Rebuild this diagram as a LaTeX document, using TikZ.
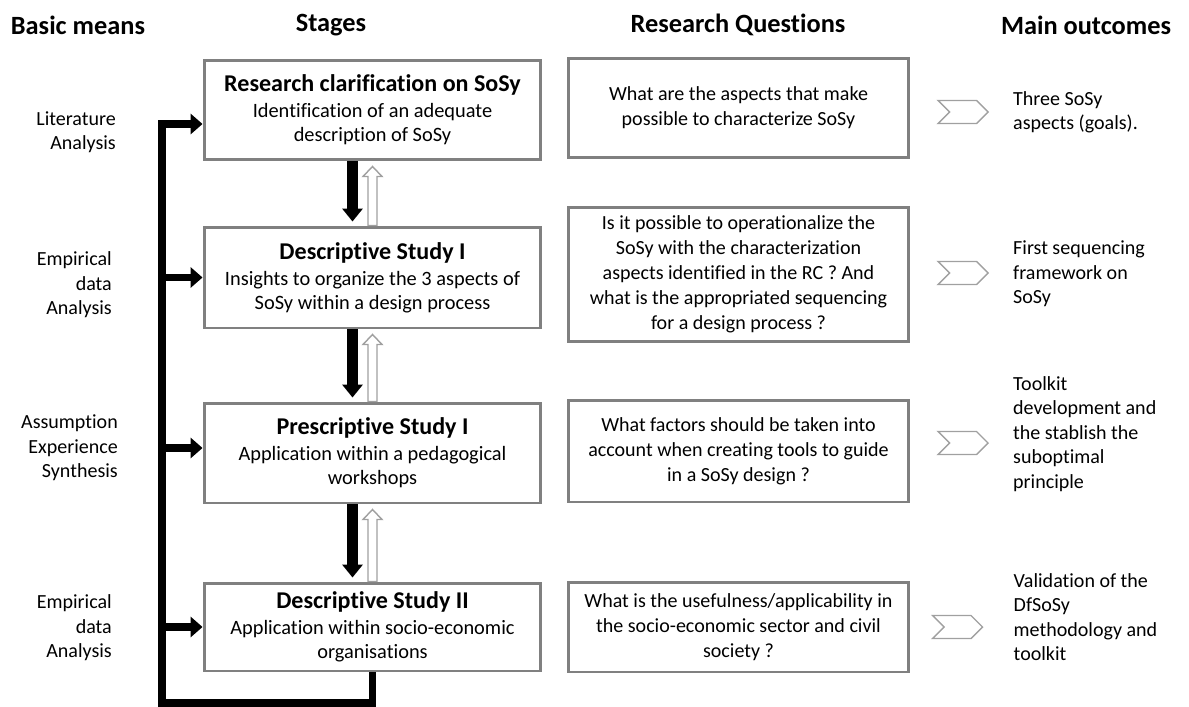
\documentclass[tikz,border=0pt]{standalone}
\usepackage{fontspec}
\setmainfont{Carlito}[Ligatures=NoCommon]
\usetikzlibrary{arrows.meta,shapes.symbols}

\definecolor{boxgray}{RGB}{128,128,128}
\definecolor{chevgray}{RGB}{160,160,160}
\newcommand{\stagehead}[1]{{\fontsize{13.7}{16}\selectfont\bfseries #1}}

\tikzset{
  header/.style   = {font=\fontsize{15}{18}\selectfont\bfseries},
  means/.style    = {anchor=east, align=right, font=\fontsize{11.4}{13.9}\selectfont},
  stage/.style    = {draw=boxgray, line width=1.7pt, minimum width=6.74cm,
                     align=center, font=\fontsize{11.6}{13.7}\selectfont},
  question/.style = {draw=boxgray, line width=1.7pt, minimum width=6.82cm,
                     align=center, font=\fontsize{11.4}{14.2}\selectfont},
  chevron/.style  = {signal, signal from=west, signal to=east, draw=chevgray,
                     line width=0.8pt, minimum width=1cm, minimum height=0.46cm, inner sep=0pt},
  outcome/.style  = {anchor=west, align=left, font=\fontsize{11.4}{13.9}\selectfont},
  downarrow/.style = {line width=5.7pt, -{Triangle[width=11.4pt, length=7.4pt]}},
  uparrow/.style   = {draw=chevgray, line width=0.8pt, fill=white},
  backline/.style  = {line width=4.5pt, -{Triangle[width=11.4pt, length=6.8pt]}},
  branch/.style    = {line width=4.5pt, -{Triangle[width=11.4pt, length=6.8pt]}}
}

\begin{document}
\begin{tikzpicture}[x=0.02cm, y=-0.02cm]
  \useasboundingbox (0,0) rectangle (1189,706);

  % column headers
  \node[header] (hdmeans) at (78,25)                        {Basic means};
  \node[header] (hdstage) at ([shift={(253,0)}]   hdmeans) {Stages};
  \node[header] (hdquest) at ([shift={(407,0)}]   hdstage) {Research Questions};
  \node[header] (hdout)   at ([shift={(348,0)}]   hdquest) {Main outcomes};

  % stages
  \node[stage, minimum height=2cm]    (rc)    at (372.5,110)               {\stagehead{Research clarification on SoSy}\\[1pt] Identification of an adequate\\ description of SoSy};
  \node[stage, minimum height=2.02cm] (dsone) at ([shift={(0,167.5)}] rc)    {\stagehead{Descriptive Study I}\\[1pt] Insights to organize the 3 aspects of\\ SoSy within a design process};
  \node[stage, minimum height=2cm]    (psone) at ([shift={(0,175.5)}] dsone) {\stagehead{Prescriptive Study I}\\[1pt] Application within a pedagogical\\ workshops};
  \node[stage, minimum height=1.76cm] (dstwo) at ([shift={(0,174)}]   psone) {\stagehead{Descriptive Study II}\\[1pt] Application within socio-economic\\ organisations};

  % research questions
  \node[question, minimum height=2cm]    (rqone)   at ([shift={(366,-2)}] rc)    {What are the aspects that make\\ possible to characterize SoSy};
  \node[question, minimum height=2.7cm]  (rqtwo)   at ([shift={(366,-3)}] dsone) {Is it possible to operationalize the\\ SoSy with the characterization\\ aspects identified in the RC ? And\\ what is the appropriated sequencing\\ for a design process ?};
  \node[question, minimum height=2.04cm] (rqthree) at ([shift={(366,-2)}] psone) {What factors should be taken into\\ account when creating tools to guide\\ in a SoSy design ?};
  \node[question, minimum height=1.8cm]  (rqfour)  at ([shift={(366,0)}]  dstwo) {What is the usefulness/applicability in\\ the socio-economic sector and civil\\ society ?};

  % chevrons and outcomes
  \node[chevron] (chevone)   at ([shift={(224.5,4)}]    rqone)   {};
  \node[chevron] (chevtwo)   at ([shift={(224.5,-1.5)}] rqtwo)   {};
  \node[chevron] (chevthree) at ([shift={(224.5,-8)}]   rqthree) {};
  \node[chevron] (chevfour)  at ([shift={(219,0)}]      rqfour)  {};

  \node[outcome] (outone)   at ([shift={(44,0)}]   chevone)   {Three SoSy\\ aspects (goals).};
  \node[outcome] (outtwo)   at ([shift={(44,1)}]   chevtwo)   {First sequencing\\ framework on\\ SoSy};
  \node[outcome] (outthree) at ([shift={(44,-9)}]  chevthree) {Toolkit\\ development and\\ the stablish the\\ suboptimal\\ principle};
  \node[outcome] (outfour)  at ([shift={(50,-10)}] chevfour)  {Validation of the\\ DfSoSy\\ methodology and\\ toolkit};

  % basic means
  \node[means] (mnone)   at (122,132)                          {Literature\\ Analysis};
  \node[means] (mntwo)   at ([shift={(-4,153)}]  mnone.east)   {Empirical\\ data\\ Analysis};
  \node[means] (mnthree) at ([shift={(6,163)}]   mntwo.east)   {Assumption\\ Experience\\ Synthesis};
  \node[means] (mnfour)  at ([shift={(-6,180)}]  mnthree.east) {Empirical\\ data\\ Analysis};

  % stage to stage arrows
  \draw[downarrow] ([shift={(-20,0)}]rc.south)    -- ([shift={(-20,-4)}]dsone.north);
  \draw[downarrow] ([shift={(-20,0)}]dsone.south) -- ([shift={(-20,-4)}]psone.north);
  \draw[downarrow] ([shift={(-20,0)}]psone.south) -- ([shift={(-20,-4)}]dstwo.north);

  \draw[uparrow] ([shift={(-4.5,0)}]dsone.north) |- ([shift={(-9.5,15)}]rc.south) -- ([shift={(0,5)}]rc.south)
    -- ([shift={(9.5,15)}]rc.south) -| ([shift={(4.5,0)}]dsone.north) -- cycle;
  \draw[uparrow] ([shift={(-4.5,0)}]psone.north) |- ([shift={(-9.5,15)}]dsone.south) -- ([shift={(0,5)}]dsone.south)
    -- ([shift={(9.5,15)}]dsone.south) -| ([shift={(4.5,0)}]psone.north) -- cycle;
  \draw[uparrow] ([shift={(-4.5,0)}]dstwo.north) |- ([shift={(-9.5,15)}]psone.south) -- ([shift={(0,5)}]psone.south)
    -- ([shift={(9.5,15)}]psone.south) -| ([shift={(4.5,0)}]dstwo.north) -- cycle;

  % feedback loop
  \coordinate (loopbl) at (162,703);
  \coordinate (psin)   at ([shift={(0,-5)}]psone.west);
  \draw[backline] (dstwo.south) |- (loopbl) |- ([shift={(0,14)}]rc.west);
  \draw[branch] (loopbl |- dsone.west) -- (dsone.west);
  \draw[branch] (loopbl |- psin)       -- (psin);
  \draw[branch] (loopbl |- dstwo.west) -- (dstwo.west);
\end{tikzpicture}
\end{document}
